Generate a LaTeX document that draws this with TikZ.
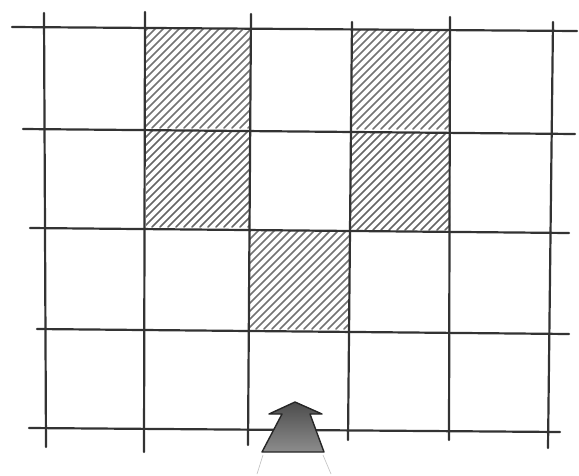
\documentclass[tikz,border=0pt]{standalone}
\begin{document}
\begin{tikzpicture}[x=1pt,y=-1pt,
  pencil/.style={line width=2.2pt, draw=black!80, line cap=round},
  hatch/.style={line width=1.5pt, draw=black!50, line cap=round},
  faint/.style={line width=0.6pt, draw=black!25}]
\useasboundingbox (0,0) rectangle (579,475);
\fill[white] (0,0) rectangle (579,475);
% hatched cells
\foreach \xa/\ya/\xb/\yb/\shade in {146/29/250/130/55, 146/131/250/229/60, 351/29/450/131/55, 351/133/450/232/60, 250/230/349/331/55} {
  \begin{scope}
    \clip (\xa,\ya) rectangle (\xb,\yb);
    \foreach \k in {0,8,...,216}
      \draw[hatch, draw=black!\shade] (\xa+\k-106,\yb-2) -- ++(106,-106);
  \end{scope}
}
% horizontal grid lines
\draw[pencil] (12,27) -- (577,31);
\draw[pencil] (23,129) -- (575,134);
\draw[pencil] (30,228) -- (569,233);
\draw[pencil] (37,329) -- (569,334);
\draw[pencil] (29,428) -- (560,432);
% vertical grid lines
\draw[pencil] (44,13) -- (46,447);
\draw[pencil] (145,12) -- (144,452);
\draw[pencil] (251,14) -- (248,445);
\draw[pencil] (352,22) -- (348,440);
\draw[pencil] (450,17) -- (449,440);
\draw[pencil] (553,22) -- (548,448);
% arrow
\coordinate (bl) at (262,452);
\coordinate (br) at (324,452);
\draw[line width=1.4pt, draw=black!85, top color=black!70, bottom color=black!45, line join=round]
  (295,402) -- (322,414) -- (310,414) -- (br) -- (bl) -- (282,414) -- (269,414) -- cycle;
\coordinate (fl) at (257,474);
\coordinate (fr) at (331,474);
\draw[faint] ([shift={(1,3)}]bl) -- (fl);
\draw[faint] ([shift={(-1,3)}]br) -- (fr);
\end{tikzpicture}
\end{document}
